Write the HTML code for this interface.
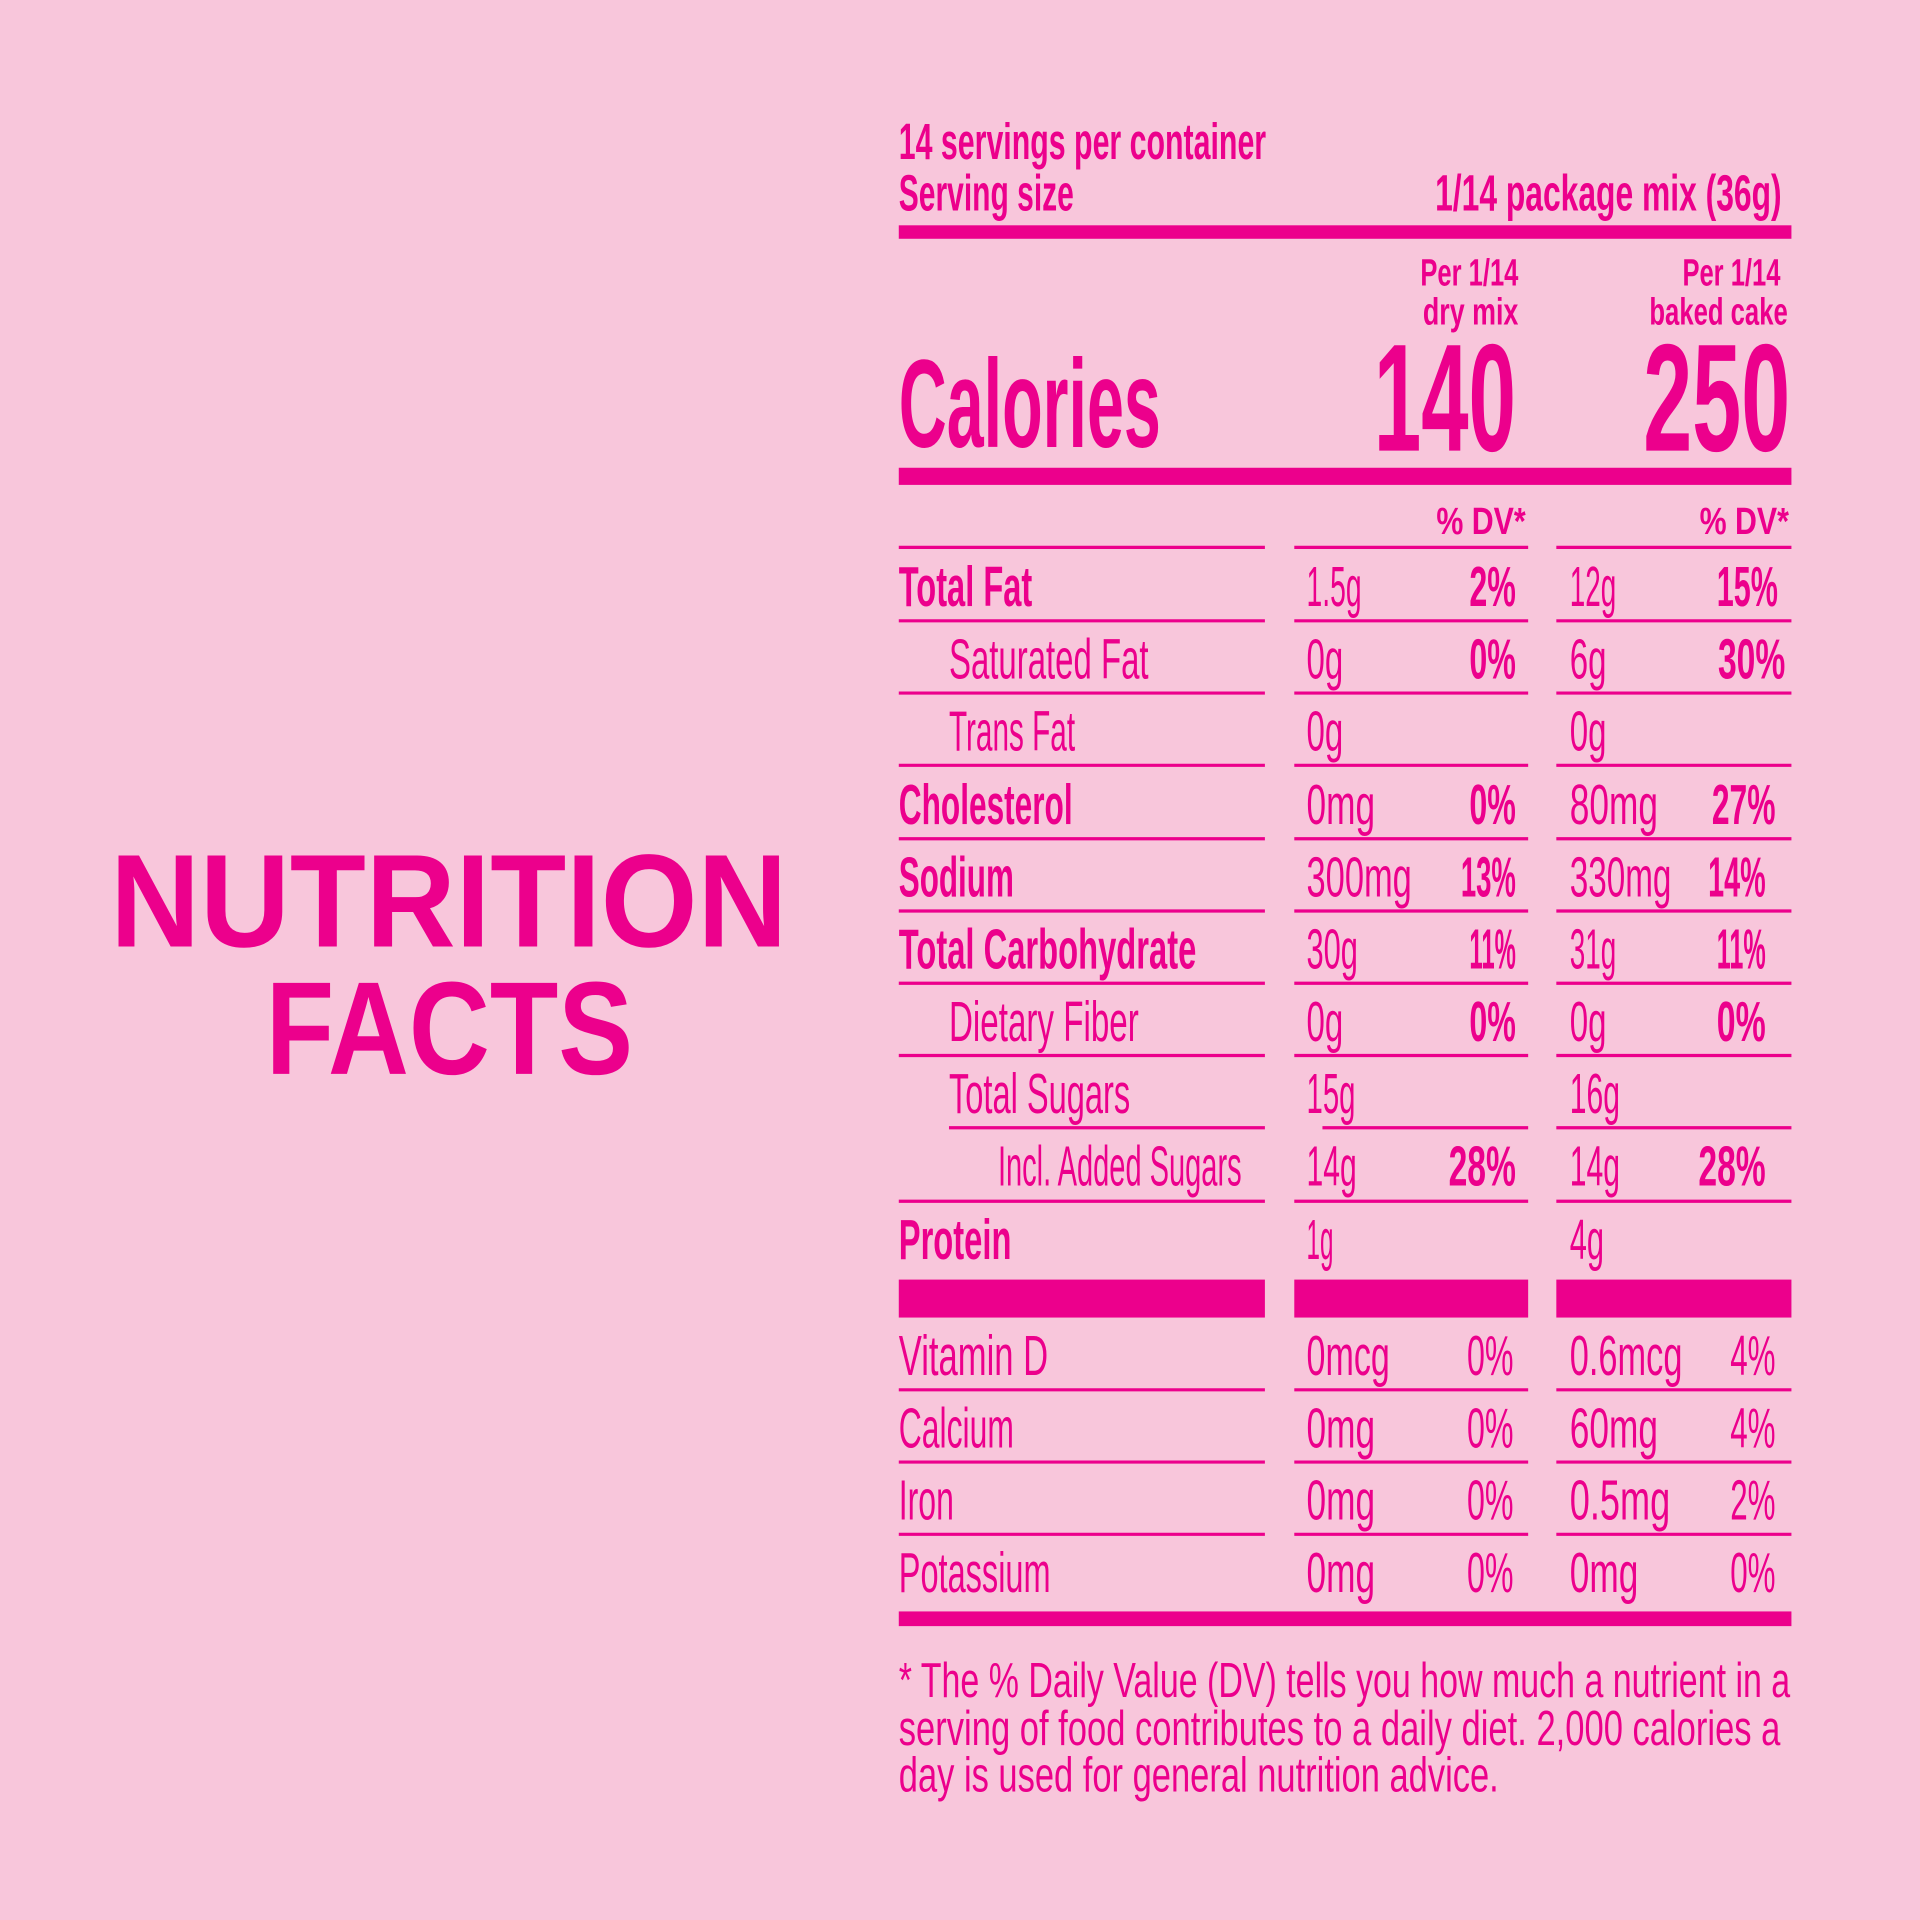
<!DOCTYPE html>
<html><head><meta charset="utf-8"><style>
html,body{margin:0;padding:0;background:#f8c6db;}
svg{display:block}
text{fill:#ec008c;font-family:"Liberation Sans Narrow","Liberation Sans",sans-serif;}
.b{font-weight:bold}
.n{font-size:46px}
.h{font-size:42px;font-weight:bold}
.s{font-size:31px;font-weight:bold}
.f{font-size:40px}
</style></head><body>
<svg width="1920" height="1920" viewBox="0 0 1568 1568" xmlns="http://www.w3.org/2000/svg">
<rect width="1568" height="1568" fill="#f8c6db"/>
<g fill="#ec008c">
<rect x="734" y="184" width="729" height="11"/>
<rect x="734" y="382" width="729" height="14"/>
<rect x="734" y="1045" width="299" height="31"/>
<rect x="1057" y="1045" width="191" height="31"/>
<rect x="1271" y="1045" width="192" height="31"/>
<rect x="734" y="1316" width="729" height="12"/>
</g>
<g stroke="#ec008c" stroke-width="2.6">
<path d="M734 447H1033M1057 447H1248M1271 447H1463
M734 507H1033M1057 507H1248M1271 507H1463
M734 566H1033M1057 566H1248M1271 566H1463
M734 625H1033M1057 625H1248M1271 625H1463
M734 685H1033M1057 685H1248M1271 685H1463
M734 744H1033M1057 744H1248M1271 744H1463
M734 803H1033M1057 803H1248M1271 803H1463
M734 862H1033M1057 862H1248M1271 862H1463
M775 921H1033M1080 921H1248M1271 921H1463
M734 981H1033M1057 981H1248M1271 981H1463
M734 1135H1033M1057 1135H1248M1271 1135H1463
M734 1194H1033M1057 1194H1248M1271 1194H1463
M734 1253H1033M1057 1253H1248M1271 1253H1463"/>
</g>

<text x="90" y="773" font-weight="bold" font-size="108" textLength="553" lengthAdjust="spacingAndGlyphs" style="font-family:'Liberation Sans',sans-serif">NUTRITION</text>
<text x="217" y="877" font-weight="bold" font-size="108" textLength="300" lengthAdjust="spacingAndGlyphs" style="font-family:'Liberation Sans',sans-serif">FACTS</text>

<text class="h" x="734" y="130" textLength="300" lengthAdjust="spacingAndGlyphs">14 servings per container</text>
<text class="h" x="734" y="172" textLength="143" lengthAdjust="spacingAndGlyphs">Serving size</text>
<text class="h" x="1455" y="172" text-anchor="end" textLength="283" lengthAdjust="spacingAndGlyphs">1/14 package mix (36g)</text>

<text class="s" x="1240" y="233" text-anchor="end" textLength="80" lengthAdjust="spacingAndGlyphs">Per 1/14</text>
<text class="s" x="1240" y="265" text-anchor="end" textLength="78" lengthAdjust="spacingAndGlyphs">dry mix</text>
<text class="s" x="1454" y="233" text-anchor="end" textLength="80" lengthAdjust="spacingAndGlyphs">Per 1/14</text>
<text class="s" x="1460" y="265" text-anchor="end" textLength="113" lengthAdjust="spacingAndGlyphs">baked cake</text>

<text class="b" x="734" y="365" font-size="102" textLength="214" lengthAdjust="spacingAndGlyphs">Calories</text>
<text class="b" x="1238" y="368" font-size="125" text-anchor="end" textLength="116" lengthAdjust="spacingAndGlyphs">140</text>
<text class="b" x="1462" y="368" font-size="125" text-anchor="end" textLength="120" lengthAdjust="spacingAndGlyphs">250</text>

<text class="s" x="1246" y="436" text-anchor="end" textLength="73" lengthAdjust="spacingAndGlyphs">% DV*</text>
<text class="s" x="1461" y="436" text-anchor="end" textLength="73" lengthAdjust="spacingAndGlyphs">% DV*</text>

<text class="n b" x="734" y="495" textLength="109" lengthAdjust="spacingAndGlyphs">Total Fat</text>
<text class="n" x="1067" y="495" textLength="45" lengthAdjust="spacingAndGlyphs">1.5g</text>
<text class="n b" x="1238" y="495" text-anchor="end" textLength="38" lengthAdjust="spacingAndGlyphs">2%</text>
<text class="n" x="1282" y="495" textLength="38" lengthAdjust="spacingAndGlyphs">12g</text>
<text class="n b" x="1452" y="495" text-anchor="end" textLength="50" lengthAdjust="spacingAndGlyphs">15%</text>

<text class="n" x="775" y="554" textLength="163" lengthAdjust="spacingAndGlyphs">Saturated Fat</text>
<text class="n" x="1067" y="554" textLength="30" lengthAdjust="spacingAndGlyphs">0g</text>
<text class="n b" x="1238" y="554" text-anchor="end" textLength="38" lengthAdjust="spacingAndGlyphs">0%</text>
<text class="n" x="1282" y="554" textLength="30" lengthAdjust="spacingAndGlyphs">6g</text>
<text class="n b" x="1458" y="554" text-anchor="end" textLength="55" lengthAdjust="spacingAndGlyphs">30%</text>

<text class="n" x="775" y="613" textLength="103" lengthAdjust="spacingAndGlyphs">Trans Fat</text>
<text class="n" x="1067" y="613" textLength="30" lengthAdjust="spacingAndGlyphs">0g</text>
<text class="n" x="1282" y="613" textLength="30" lengthAdjust="spacingAndGlyphs">0g</text>

<text class="n b" x="734" y="673" textLength="142" lengthAdjust="spacingAndGlyphs">Cholesterol</text>
<text class="n" x="1067" y="673" textLength="56" lengthAdjust="spacingAndGlyphs">0mg</text>
<text class="n b" x="1238" y="673" text-anchor="end" textLength="38" lengthAdjust="spacingAndGlyphs">0%</text>
<text class="n" x="1282" y="673" textLength="72" lengthAdjust="spacingAndGlyphs">80mg</text>
<text class="n b" x="1450" y="673" text-anchor="end" textLength="52" lengthAdjust="spacingAndGlyphs">27%</text>

<text class="n b" x="734" y="732" textLength="94" lengthAdjust="spacingAndGlyphs">Sodium</text>
<text class="n" x="1067" y="732" textLength="86" lengthAdjust="spacingAndGlyphs">300mg</text>
<text class="n b" x="1238" y="732" text-anchor="end" textLength="45" lengthAdjust="spacingAndGlyphs">13%</text>
<text class="n" x="1282" y="732" textLength="83" lengthAdjust="spacingAndGlyphs">330mg</text>
<text class="n b" x="1442" y="732" text-anchor="end" textLength="47" lengthAdjust="spacingAndGlyphs">14%</text>

<text class="n b" x="734" y="791" textLength="243" lengthAdjust="spacingAndGlyphs">Total Carbohydrate</text>
<text class="n" x="1067" y="791" textLength="42" lengthAdjust="spacingAndGlyphs">30g</text>
<text class="n b" x="1238" y="791" text-anchor="end" textLength="38" lengthAdjust="spacingAndGlyphs">11%</text>
<text class="n" x="1282" y="791" textLength="38" lengthAdjust="spacingAndGlyphs">31g</text>
<text class="n b" x="1442" y="791" text-anchor="end" textLength="40" lengthAdjust="spacingAndGlyphs">11%</text>

<text class="n" x="775" y="850" textLength="155" lengthAdjust="spacingAndGlyphs">Dietary Fiber</text>
<text class="n" x="1067" y="850" textLength="30" lengthAdjust="spacingAndGlyphs">0g</text>
<text class="n b" x="1238" y="850" text-anchor="end" textLength="38" lengthAdjust="spacingAndGlyphs">0%</text>
<text class="n" x="1282" y="850" textLength="30" lengthAdjust="spacingAndGlyphs">0g</text>
<text class="n b" x="1442" y="850" text-anchor="end" textLength="40" lengthAdjust="spacingAndGlyphs">0%</text>

<text class="n" x="775" y="909" textLength="148" lengthAdjust="spacingAndGlyphs">Total Sugars</text>
<text class="n" x="1067" y="909" textLength="40" lengthAdjust="spacingAndGlyphs">15g</text>
<text class="n" x="1282" y="909" textLength="41" lengthAdjust="spacingAndGlyphs">16g</text>

<text class="n" x="815" y="968" textLength="199" lengthAdjust="spacingAndGlyphs">Incl. Added Sugars</text>
<text class="n" x="1067" y="968" textLength="41" lengthAdjust="spacingAndGlyphs">14g</text>
<text class="n b" x="1238" y="968" text-anchor="end" textLength="55" lengthAdjust="spacingAndGlyphs">28%</text>
<text class="n" x="1282" y="968" textLength="41" lengthAdjust="spacingAndGlyphs">14g</text>
<text class="n b" x="1442" y="968" text-anchor="end" textLength="55" lengthAdjust="spacingAndGlyphs">28%</text>

<text class="n b" x="734" y="1028" textLength="92" lengthAdjust="spacingAndGlyphs">Protein</text>
<text class="n" x="1067" y="1028" textLength="22" lengthAdjust="spacingAndGlyphs">1g</text>
<text class="n" x="1282" y="1028" textLength="28" lengthAdjust="spacingAndGlyphs">4g</text>

<text class="n" x="734" y="1123" textLength="122" lengthAdjust="spacingAndGlyphs">Vitamin D</text>
<text class="n" x="1067" y="1123" textLength="68" lengthAdjust="spacingAndGlyphs">0mcg</text>
<text class="n" x="1236" y="1123" text-anchor="end" textLength="38" lengthAdjust="spacingAndGlyphs">0%</text>
<text class="n" x="1282" y="1123" textLength="92" lengthAdjust="spacingAndGlyphs">0.6mcg</text>
<text class="n" x="1450" y="1123" text-anchor="end" textLength="37" lengthAdjust="spacingAndGlyphs">4%</text>

<text class="n" x="734" y="1182" textLength="94" lengthAdjust="spacingAndGlyphs">Calcium</text>
<text class="n" x="1067" y="1182" textLength="56" lengthAdjust="spacingAndGlyphs">0mg</text>
<text class="n" x="1236" y="1182" text-anchor="end" textLength="38" lengthAdjust="spacingAndGlyphs">0%</text>
<text class="n" x="1282" y="1182" textLength="72" lengthAdjust="spacingAndGlyphs">60mg</text>
<text class="n" x="1450" y="1182" text-anchor="end" textLength="37" lengthAdjust="spacingAndGlyphs">4%</text>

<text class="n" x="734" y="1241" textLength="45" lengthAdjust="spacingAndGlyphs">Iron</text>
<text class="n" x="1067" y="1241" textLength="56" lengthAdjust="spacingAndGlyphs">0mg</text>
<text class="n" x="1236" y="1241" text-anchor="end" textLength="38" lengthAdjust="spacingAndGlyphs">0%</text>
<text class="n" x="1282" y="1241" textLength="82" lengthAdjust="spacingAndGlyphs">0.5mg</text>
<text class="n" x="1450" y="1241" text-anchor="end" textLength="37" lengthAdjust="spacingAndGlyphs">2%</text>

<text class="n" x="734" y="1300" textLength="124" lengthAdjust="spacingAndGlyphs">Potassium</text>
<text class="n" x="1067" y="1300" textLength="56" lengthAdjust="spacingAndGlyphs">0mg</text>
<text class="n" x="1236" y="1300" text-anchor="end" textLength="38" lengthAdjust="spacingAndGlyphs">0%</text>
<text class="n" x="1282" y="1300" textLength="56" lengthAdjust="spacingAndGlyphs">0mg</text>
<text class="n" x="1450" y="1300" text-anchor="end" textLength="37" lengthAdjust="spacingAndGlyphs">0%</text>

<text class="f" x="734" y="1386" textLength="728" lengthAdjust="spacingAndGlyphs">* The % Daily Value (DV) tells you how much a nutrient in a</text>
<text class="f" x="734" y="1425" textLength="720" lengthAdjust="spacingAndGlyphs">serving of food contributes to a daily diet. 2,000 calories a</text>
<text class="f" x="734" y="1463" textLength="490" lengthAdjust="spacingAndGlyphs">day is used for general nutrition advice.</text>
</svg>
</body></html>
